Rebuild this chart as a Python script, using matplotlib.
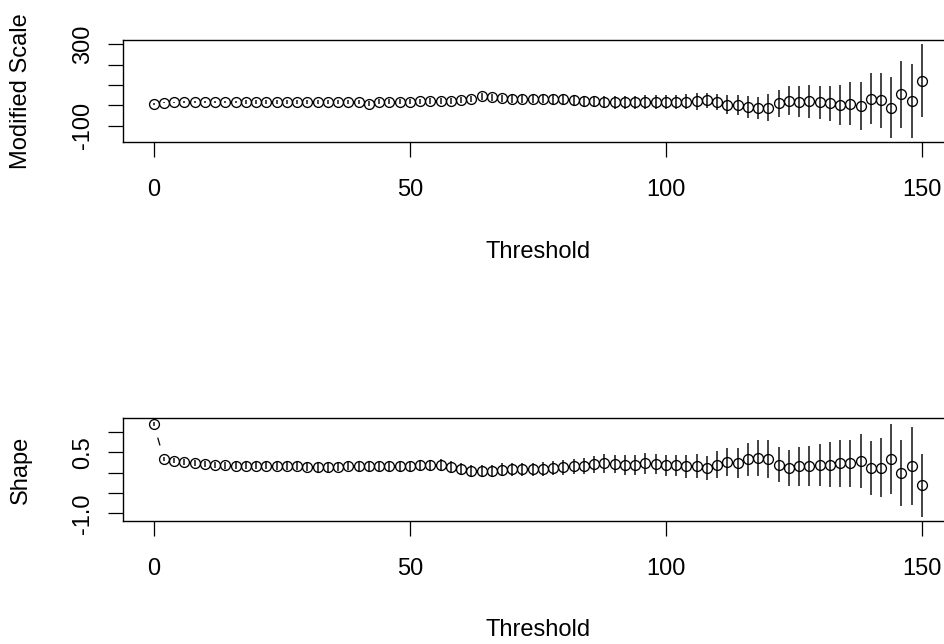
import numpy as np
import matplotlib
matplotlib.use("Agg")
import matplotlib.pyplot as plt

plt.rcParams['font.family'] = ['Liberation Sans', 'DejaVu Sans']

# thresholds 0, 2, ..., 150
thresholds = list(range(0, 151, 2))

# modified scale estimates and CI half widths
mod_scale = [7, 13, 14, 14, 15, 16, 16, 16, 16, 16, 16,
             16, 16, 16, 16, 16, 16, 16, 16, 17, 17, 8, 17, 18, 18, 18,
             19, 20, 21, 22, 27, 32, 44, 39, 34, 31, 30, 30, 30, 29, 29,
             24, 22, 20, 17, 15, 14, 15, 16, 15, 16, 17,
             18, 20, 25, 18, 2, 2, -9, -14, -12, 10, 23, 18, 20, 14, 11, 2, 7, -4, 33, 25, -11, 54, 22, 122]
mod_scale_hw = [3, 4, 4, 5, 5, 6, 6, 7, 7, 8, 8,
                8, 9, 9, 9, 10, 10, 10, 11, 11, 11, 12, 12, 12, 13, 13,
                13, 14, 14, 15, 15, 16, 16, 17, 18, 18, 19, 20, 20, 21, 22,
                24, 26, 28, 30, 31, 32, 33, 34, 34, 35, 35,
                37, 43, 37, 39, 47, 50, 53, 55, 67, 67, 73, 75, 82, 82, 86, 100, 106, 117, 127, 135, 151, 165, 183, 181]

# shape estimates and CI half widths
shape = [1.20, 0.34, 0.30, 0.26, 0.24, 0.21, 0.19, 0.18, 0.17, 0.17, 0.17,
         0.17, 0.17, 0.17, 0.16, 0.15, 0.14, 0.14, 0.15, 0.17, 0.17, 0.17, 0.17, 0.16, 0.16, 0.17,
         0.18, 0.18, 0.19, 0.15, 0.09, 0.05, 0.04, 0.04, 0.07, 0.08, 0.08, 0.08, 0.10, 0.11, 0.13,
         0.16, 0.17, 0.21, 0.23, 0.22, 0.19, 0.19, 0.23, 0.21, 0.19, 0.18,
         0.16, 0.16, 0.12, 0.20, 0.27, 0.24, 0.33, 0.37, 0.34, 0.20, 0.12, 0.16, 0.16, 0.20, 0.20,
         0.23, 0.23, 0.29, 0.12, 0.12, 0.34, 0.00, 0.16, -0.31]
shape_hw = [0.05, 0.06, 0.06, 0.07, 0.07, 0.08, 0.08, 0.08, 0.09, 0.09, 0.09,
            0.09, 0.10, 0.10, 0.10, 0.10, 0.11, 0.11, 0.11, 0.11, 0.12, 0.12, 0.12, 0.12, 0.13, 0.13,
            0.13, 0.13, 0.14, 0.14, 0.14, 0.15, 0.15, 0.15, 0.16, 0.16, 0.16, 0.17, 0.17, 0.17, 0.18,
            0.19, 0.20, 0.21, 0.23, 0.23, 0.24, 0.24, 0.25, 0.25, 0.26, 0.27,
            0.28, 0.30, 0.30, 0.33, 0.35, 0.37, 0.40, 0.44, 0.46, 0.44, 0.45, 0.48, 0.49, 0.52, 0.56,
            0.59, 0.59, 0.66, 0.67, 0.73, 0.87, 0.81, 0.96, 0.78]

FS = 17
W, H = 944, 644


def r_lim(lo, hi):
    # R style 4% range extension
    d = hi - lo
    return lo - 0.04 * d, hi + 0.04 * d


def b_lines(ax, x, y, gap=14.7):
    # emulate R type="b": line pieces with gaps around each point
    pts = ax.transData.transform(np.column_stack([x, y]))
    inv = ax.transData.inverted()
    for p0, p1 in zip(pts[:-1], pts[1:]):
        d = np.hypot(*(p1 - p0))
        if d <= 2 * gap:
            continue
        u = (p1 - p0) / d
        a, b = inv.transform([p0 + u * gap, p1 - u * gap])
        ax.plot([a[0], b[0]], [a[1], b[1]], color='black', lw=0.9)


def panel(ax_rect, est, hw, yticks, ylabels, ylab):
    ax = fig.add_axes(ax_rect)
    x = np.array(thresholds, dtype=float)
    est = np.array(est, dtype=float)
    hw = np.array(hw, dtype=float)
    lo, hi = est - hw, est + hw
    ax.set_xlim(r_lim(0, 150))
    ax.set_ylim(r_lim(min(lo.min(), est.min()), max(hi.max(), est.max())))
    b_lines(ax, x, est)
    ax.vlines(x, lo, hi, color='#1a1a1a', lw=1.15)
    ax.plot(x, est, 'o', ms=7.1, mfc='none', mec='black', mew=0.95)
    ax.set_xticks([0, 50, 100, 150])
    ax.set_xticklabels(['0', '50', '100', '150'], fontsize=FS)
    ax.set_yticks(yticks)
    ax.set_yticklabels(ylabels, fontsize=FS, rotation=90, va='center')
    ax.tick_params(direction='out', length=10.8, width=0.9, color='black')
    ax.tick_params(axis='x', pad=16)
    ax.tick_params(axis='y', pad=10)
    for s in ax.spines.values():
        s.set_linewidth(1.0)
    ax.set_xlabel('Threshold', fontsize=FS)
    ax.set_ylabel(ylab, fontsize=FS)
    return ax


fig = plt.figure(figsize=(W / 100, H / 100), dpi=100)

ax1 = panel([123 / W, 1 - 142 / H, (952.7 - 123) / W, 102 / H], mod_scale, mod_scale_hw,
            [-100, 0, 100, 200, 300], ['-100', '', '', '', '300'], 'Modified Scale')
ax1.xaxis.set_label_coords(0.5, (142 - 252) / 102)
ax1.xaxis.label.set_va('center')
ax1.yaxis.set_label_coords((21 - 123) / 829.7, 0.5)
ax1.yaxis.label.set_va('center')

ax2 = panel([123 / W, 1 - 520.7 / H, (952.7 - 123) / W, 102.4 / H], shape, shape_hw,
            [-1.0, -0.5, 0.0, 0.5, 1.0], ['-1.0', '', '', '0.5', ''], 'Shape')
ax2.xaxis.set_label_coords(0.5, (520.7 - 630) / 102.4)
ax2.xaxis.label.set_va('center')
ax2.yaxis.set_label_coords((21 - 123) / 829.7, 0.5)
ax2.yaxis.label.set_va('center')

fig.savefig('out.png', dpi=100)
